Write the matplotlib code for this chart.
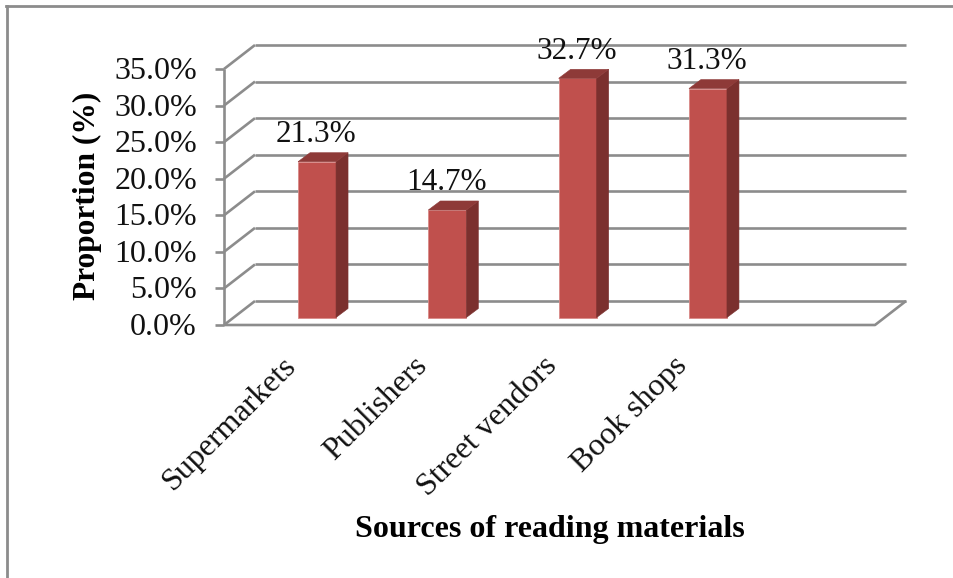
import matplotlib
matplotlib.use('Agg')
from matplotlib import pyplot as plt
from matplotlib.patches import Polygon

categories = ['Supermarkets', 'Publishers', 'Street vendors', 'Book shops']
values = [21.3, 14.7, 32.7, 31.3]
y_ticks = [0, 5, 10, 15, 20, 25, 30, 35]
y_labels = ['0.0%', '5.0%', '10.0%', '15.0%', '20.0%', '25.0%', '30.0%', '35.0%']

W, H = 954, 578
plt.rcParams['font.family'] = ['Liberation Serif', 'DejaVu Serif']

fig = plt.figure(figsize=(W / 100, H / 100), dpi=100)
# axes = the front plane of the 3d box
ax = fig.add_axes([224 / W, 1 - 325 / H, (875 - 224) / W, (325 - 69) / H])
ax.set_xlim(-0.714, 4.282)
ax.set_ylim(0, 35)
ax.axis('off')

# oblique depth of the box and of the bars, in data units
per_x = 130.3
per_y = 256 / 35
box_dx, box_dy = 31 / per_x, 24 / per_y
bar_dx, bar_dy = 12 / per_x, 9 / per_y
bar_w = 38 / per_x
bar_y0 = 7.5 / per_y
x0, x1 = ax.get_xlim()

grid = '#8c8c8c'
line_kw = dict(color=grid, lw=1.9, clip_on=False, solid_capstyle='butt')

# back wall gridlines and the slanted side wall
for t in y_ticks:
    ax.plot([x0 + box_dx, x1 + box_dx], [t + box_dy, t + box_dy], zorder=1, **line_kw)
    ax.plot([x0, x0 + box_dx], [t, t + box_dy], zorder=1, **line_kw)
    ax.plot([x0 - 9 / per_x, x0], [t, t], zorder=1, **line_kw)
ax.plot([x0, x0], [0, 35], zorder=1, **line_kw)
ax.plot([x0, x1, x1 + box_dx], [0, 0, box_dy], zorder=1, **line_kw)

# bars: front, side and top faces
for i, v in enumerate(values):
    l, r = i - bar_w / 2, i + bar_w / 2
    top = bar_y0 + v
    ax.add_patch(Polygon([(l, bar_y0), (r, bar_y0), (r, top), (l, top)],
                         fc='#c0504d', ec='#d98a88', lw=0.6, zorder=3, clip_on=False))
    ax.add_patch(Polygon([(r, bar_y0), (r + bar_dx, bar_y0 + bar_dy), (r + bar_dx, top + bar_dy), (r, top)],
                         fc='#7b302e', ec='#7b302e', lw=0.4, zorder=3, clip_on=False))
    ax.add_patch(Polygon([(l, top), (r, top), (r + bar_dx, top + bar_dy), (l + bar_dx, top + bar_dy)],
                         fc='#8e3a38', ec='#8e3a38', lw=0.4, zorder=3, clip_on=False))
    ax.text(i - 1 / per_x, top + 12.5 / per_y, '%.1f%%' % v, ha='center', va='bottom',
            fontsize=22.5, color='#111111', zorder=4, clip_on=False)

# tick labels
for t, lab in zip(y_ticks, y_labels):
    ax.text(x0 - 27 / per_x, t - 0.35, lab, ha='right', va='center', fontsize=23, color='#111111')

# category labels, rotated and right aligned under the bars
for i, c in enumerate(categories):
    ax.text(i - 35 / per_x, -3.6, c, rotation=45, rotation_mode='anchor', ha='right', va='top',
            fontsize=23, color='#111111', clip_on=False)

fig.text(87 / W, 1 - 196 / H, 'Proportion (%)', rotation=90, ha='center', va='center',
         fontsize=22.6, fontweight='bold', color='black')
fig.text(550 / W, 1 - 530 / H, 'Sources of reading materials', ha='center', va='center',
         fontsize=23, fontweight='bold', color='black')

# frame of the pasted chart
fig.add_artist(plt.Line2D([7 / W, 7 / W], [0, 1 - 6 / H], color='#8c8c8c', lw=2))
fig.add_artist(plt.Line2D([6 / W, 1], [1 - 6 / H, 1 - 6 / H], color='#8c8c8c', lw=2))

fig.savefig('out.png', dpi=100)
